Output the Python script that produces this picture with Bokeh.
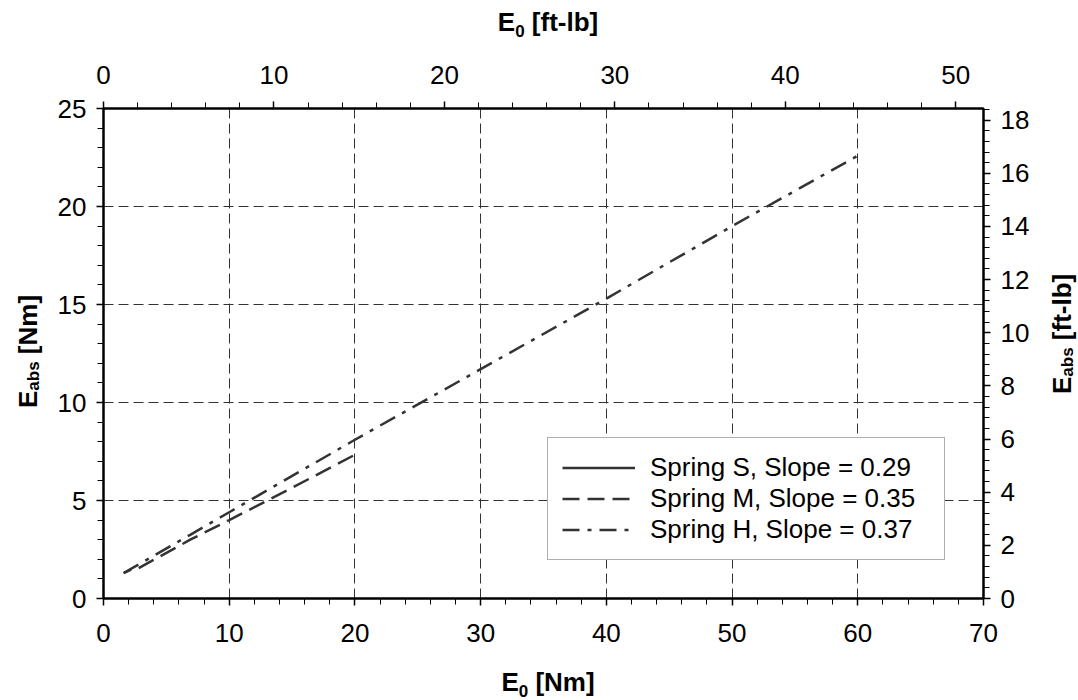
from bokeh.plotting import figure
from bokeh.models import (Range1d, LinearAxis, Legend, LegendItem, Div,
                          SingleIntervalTicker)
from bokeh.layouts import column, row
from bokeh.embed import file_html
from bokeh.resources import INLINE

# ---------------- data ----------------
K = 0.737562  # Nm -> ft-lb

spring_s_x = [1.6, 2.2]
spring_s_y = [1.3, 1.47]

spring_m_x = [2.8, 6.9, 10.0, 15.0, 19.9]
spring_m_y = [1.55, 3.0, 4.0, 5.65, 7.3]

spring_h_x = [1.6, 6.9, 10.0, 20.0, 30.0, 40.0, 50.0, 60.3]
spring_h_y = [1.3, 3.25, 4.4, 8.1, 11.7, 15.3, 19.0, 22.7]

legend_labels = ["Spring S, Slope = 0.29",
                 "Spring M, Slope = 0.35",
                 "Spring H, Slope = 0.37"]

x_title = ("E", "0", "[Nm]")
x2_title = ("E", "0", "[ft-lb]")
y_title = ("E", "abs", "[Nm]")
y2_title = ("E", "abs", "[ft-lb]")

# ---------------- layout sizes ----------------
W, H = 1078, 700
TOP_H, BOT_H = 45, 42
LEFT_W, RIGHT_W = 45, 33
PW, PH = W - LEFT_W - RIGHT_W, H - TOP_H - BOT_H
FL, FR, FT, FB = 103, 983, 108, 598   # frame edges in page pixels

FONT = "Liberation Sans"
TICK_SIZE = "26px"
LINE_COLOR = "#333333"

p = figure(width=PW, height=PH, x_range=Range1d(0, 70), y_range=Range1d(0, 25),
           output_backend="svg", toolbar_location=None, margin=0,
           min_border_left=FL - LEFT_W, min_border_right=(W - RIGHT_W) - FR,
           min_border_top=FT - TOP_H, min_border_bottom=(H - BOT_H) - FB)
p.background_fill_color = "white"
p.border_fill_color = "white"
p.outline_line_color = "black"
p.outline_line_width = 2

p.extra_x_ranges = {"ftlb_x": Range1d(0, 70 * K)}
p.extra_y_ranges = {"ftlb_y": Range1d(0, 25 * K)}

top_axis = LinearAxis(x_range_name="ftlb_x")
right_axis = LinearAxis(y_range_name="ftlb_y")
p.add_layout(top_axis, "above")
p.add_layout(right_axis, "right")

bottom_axis = p.below[0]
left_axis = p.left[0]

bottom_axis.ticker = SingleIntervalTicker(interval=10, num_minor_ticks=5)
left_axis.ticker = SingleIntervalTicker(interval=5, num_minor_ticks=5)
top_axis.ticker = SingleIntervalTicker(interval=10, num_minor_ticks=5)
right_axis.ticker = SingleIntervalTicker(interval=2, num_minor_ticks=5)

for ax in [bottom_axis, left_axis, top_axis, right_axis]:
    ax.axis_line_color = "black"
    ax.axis_line_width = 2
    ax.major_tick_line_color = "black"
    ax.minor_tick_line_color = "black"
    ax.major_tick_line_width = 1.5
    ax.minor_tick_line_width = 1
    ax.major_tick_in = 0
    ax.major_tick_out = 7
    ax.minor_tick_in = 0
    ax.minor_tick_out = 6
    ax.major_label_text_font = FONT
    ax.major_label_text_font_size = TICK_SIZE
    ax.major_label_text_color = "black"
    ax.axis_label = None

bottom_axis.major_label_standoff = 18
top_axis.major_label_standoff = 18
left_axis.major_label_standoff = 10
right_axis.major_label_standoff = 10

for g in [p.xgrid[0], p.ygrid[0]]:
    g.grid_line_color = "#333333"
    g.grid_line_width = 1
    g.grid_line_dash = "10 5"

# ---------------- lines ----------------
r_s = p.line(spring_s_x, spring_s_y, line_color=LINE_COLOR, line_width=2.5)
r_m = p.line(spring_m_x, spring_m_y, line_color=LINE_COLOR, line_width=2.5,
             line_dash="17 8")
r_h = p.line(spring_h_x, spring_h_y, line_color=LINE_COLOR, line_width=2.5,
             line_dash="17 8 4 8")

legend = Legend(items=[LegendItem(label=legend_labels[0], renderers=[r_s]),
                       LegendItem(label=legend_labels[1], renderers=[r_m]),
                       LegendItem(label=legend_labels[2], renderers=[r_h])],
                location=(547 - FL, FB - 560), margin=0, padding=14, spacing=0,
                glyph_width=73, glyph_height=31, label_height=31,
                label_width=280, label_standoff=15,
                label_text_font=FONT, label_text_font_size="26px",
                label_text_color="black",
                border_line_color="#606060", border_line_width=1.5,
                background_fill_color="white", background_fill_alpha=1)
p.add_layout(legend, "center")


# ---------------- axis titles (HTML, with subscripts) ----------------
def title_html(parts):
    main, sub, unit = parts
    return (f"{main}<sub style=\"font-size:17px;line-height:0;\">{sub}</sub>"
            f" {unit}")


BASE = (f"font-family:'{FONT}';font-weight:bold;font-size:26px;"
        "line-height:30px;color:black;box-sizing:border-box;white-space:nowrap;")


def hdiv(parts, height, pad_top):
    html = (f"<div style=\"{BASE}width:{W}px;height:{height}px;"
            f"text-align:center;padding-top:{pad_top}px;padding-left:18px;\">"
            f"{title_html(parts)}</div>")
    return Div(text=html, width=W, height=height, margin=0)


def vdiv(parts, width, pad_right, pad_top):
    html = (f"<div style=\"{BASE}width:{width}px;height:{PH}px;"
            "writing-mode:vertical-rl;transform:rotate(180deg);"
            f"text-align:center;padding-right:{pad_right}px;"
            f"padding-top:{pad_top}px;\">"
            f"{title_html(parts)}</div>")
    return Div(text=html, width=width, height=PH, margin=0)


top_div = hdiv(x2_title, TOP_H, 7)
bottom_div = hdiv(x_title, BOT_H, 9)
left_div = vdiv(y_title, LEFT_W, 13, 0)
right_div = vdiv(y2_title, RIGHT_W, 2, 36)

layout = column(row(left_div, p, right_div, margin=0, spacing=0),
                margin=0, spacing=0)
layout = column(top_div, row(left_div, p, right_div, margin=0, spacing=0),
                bottom_div, margin=0, spacing=0)

open("out.html", "w").write(file_html(layout, INLINE))
